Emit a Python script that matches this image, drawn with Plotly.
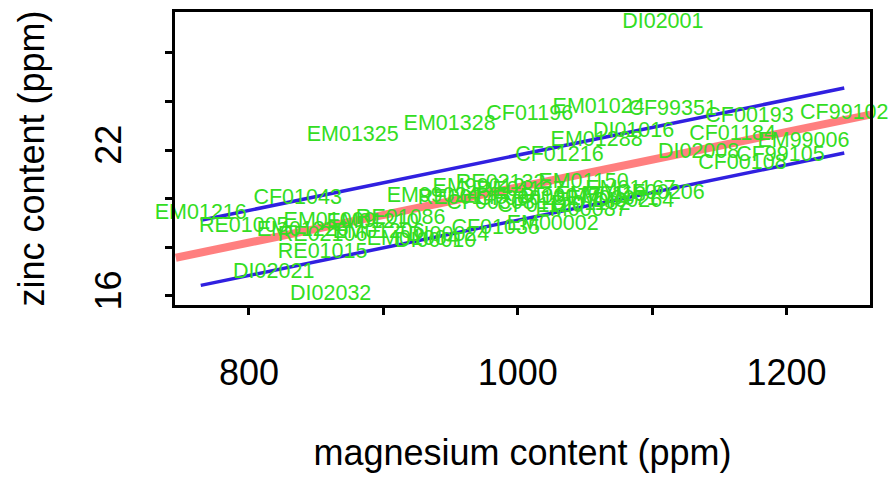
import plotly.graph_objects as go

# Sample IDs with magnesium (x) and zinc (y) contents, ppm
sample_id = [
    "DI02001", "CF99102", "EM01216", "EM01325", "EM01328", "CF01196", "EM01024",
    "CF99351", "CF00193", "EM01288", "DI01016", "CF01184", "EM99006", "DI02008",
    "CF99105", "CF00108", "CF01216", "EM01150", "CF01043", "RE01005", "EM01009",
    "EM01210", "RE01086", "EM01226", "RE02106", "EM01206", "EM01004", "DI00010",
    "DI00024", "CF01035", "EM00002", "RE01015", "DI02021", "DI02032", "EM99024",
    "EM99012", "RE02132", "CF00308", "EM01167", "CF00206", "DI00264", "EM00087",
    "CF00012", "DI00077", "EM00113", "CF01120", "RE00145", "DI01102", "EM00071",
    "RE01137",
]
magnesium = [
    1108, 1243, 764.1, 877.2, 949.3, 1008.9, 1060.2,
    1115.3, 1172.5, 1058.7, 1086.2, 1159.9, 1212.6, 1134.6,
    1195.5, 1167.2, 1031.0, 1049.0, 836.2, 796.1, 860.0,
    892.0, 912.9, 840.0, 854.8, 896.5, 921.8, 938.9,
    948.6, 983.6, 1026.0, 854.8, 818.4, 860.8, 936.7,
    970.9, 987.3, 979.8, 1084.0, 1106.3, 1086.2, 1047.5,
    1002.2, 1031.8, 1061.7, 1017.0, 959.0, 1054.2, 1070.6,
    1002.2,
]
zinc = [
    27.24, 23.50, 19.40, 22.61, 23.06, 23.46, 23.75,
    23.67, 23.38, 22.41, 22.77, 22.65, 22.33, 21.88,
    21.76, 21.43, 21.76, 20.66, 20.01, 18.87, 19.07,
    19.03, 19.20, 18.67, 18.50, 18.59, 18.30, 18.22,
    18.46, 18.75, 18.95, 17.77, 16.96, 16.07, 20.09,
    20.46, 20.62, 19.80, 20.37, 20.21, 19.89, 19.52,
    19.97, 20.05, 20.13, 19.68, 20.01, 19.76, 19.97,
    20.33,
]

# Fitted line across the panel and the two parallel band lines over the data span
fit_x = [745.5, 1262.5]
fit_y = [17.57, 23.46]
band_x = [764.1, 1243.0]
band_upper = [19.11, 24.56]
band_lower = [16.43, 21.88]

x_ticks = [800, 900, 1000, 1100, 1200]
x_tick_text = ["800", "", "1000", "", "1200"]
y_ticks = [16, 18, 20, 22, 24, 26]
y_tick_text = ["16", "", "", "22", "", ""]

FONT = "Liberation Sans, Arial, Helvetica, sans-serif"
GREEN = "#33DD22"
BLUE = "#3020E0"
RED = "rgba(255,0,0,0.5)"


def padded(values, frac=0.04):
    lo, hi = min(values), max(values)
    pad = (hi - lo) * frac
    return [lo - pad, hi + pad]


fig = go.Figure()

fig.add_trace(go.Scatter(x=band_x, y=band_upper, mode="lines",
                         line=dict(color=BLUE, width=3.5), showlegend=False,
                         hoverinfo="skip"))
fig.add_trace(go.Scatter(x=band_x, y=band_lower, mode="lines",
                         line=dict(color=BLUE, width=3.5), showlegend=False,
                         hoverinfo="skip"))
fig.add_trace(go.Scatter(x=fit_x, y=fit_y, mode="lines",
                         line=dict(color=RED, width=8), showlegend=False,
                         hoverinfo="skip"))
fig.add_trace(go.Scatter(x=magnesium, y=zinc, mode="text", text=sample_id,
                         textposition="middle center",
                         textfont=dict(color=GREEN, size=21.5, family=FONT),
                         cliponaxis=False, showlegend=False))

axis_common = dict(
    showgrid=False, zeroline=False, showline=True, mirror=True,
    linecolor="black", linewidth=3,
    ticks="outside", ticklen=7, tickwidth=3, tickcolor="black",
    tickfont=dict(size=36, family=FONT, color="black"),
)

fig.update_layout(
    width=892, height=477,
    margin=dict(l=175, r=22, t=9, b=172),
    paper_bgcolor="white", plot_bgcolor="white",
    font=dict(family=FONT, color="black"),
    xaxis=dict(
        range=padded(magnesium), tickmode="array",
        tickvals=x_ticks, ticktext=x_tick_text,
        ticklabelstandoff=27,
        title=dict(text="magnesium content (ppm)",
                   font=dict(size=36, family=FONT), standoff=48),
        **axis_common,
    ),
    yaxis=dict(
        range=padded(zinc), tickmode="array",
        tickvals=y_ticks, ticktext=y_tick_text, tickangle=-90,
        ticklabelstandoff=30,
        title=dict(text="zinc content (ppm)",
                   font=dict(size=36, family=FONT), standoff=32),
        **axis_common,
    ),
)

fig.write_html("out.html")
